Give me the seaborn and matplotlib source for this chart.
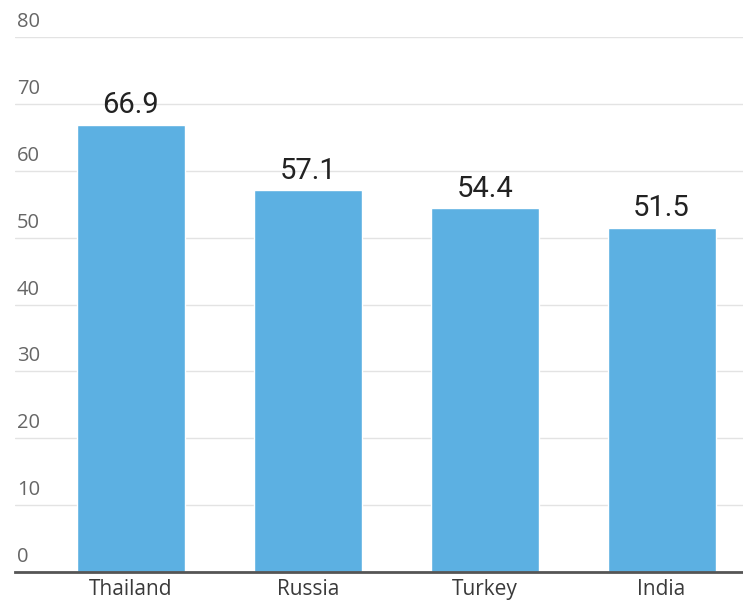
import matplotlib
matplotlib.use('Agg')
import matplotlib.pyplot as plt
import seaborn as sns
import pandas as pd

countries = ['Thailand', 'Russia', 'Turkey', 'India']
values = [66.9, 57.1, 54.4, 51.5]
y_ticks = [0, 10, 20, 30, 40, 50, 60, 70, 80]

df = pd.DataFrame({'country': countries, 'value': values})

sns.set_style('white')
plt.rcParams['font.family'] = ['Roboto', 'DejaVu Sans']

fig = plt.figure(figsize=(7.43, 6.05), dpi=100)
ax = fig.add_axes([0.0202, 0.0545, 0.9798, 0.8843])

sns.barplot(data=df, x='country', y='value', color='#5cb0e2', saturation=1,
            width=0.61, ax=ax, zorder=2)

ax.set_xlim(-0.655, 3.46)
ax.set_ylim(0, 80)
ax.set_yticks(y_ticks)
ax.set_yticklabels([])
ax.tick_params(axis='y', length=0)
ax.grid(axis='y', color='#e3e3e3', linewidth=1, zorder=0)

# y labels sit above the gridlines, inside the plot
for t in y_ticks:
    ax.annotate(str(t), xy=(0, t), xycoords=('axes fraction', 'data'),
                xytext=(2, 5), textcoords='offset pixels',
                ha='left', va='bottom', fontsize=14.5, color='#666666',
                family=['Open Sans', 'DejaVu Sans'])

ax.tick_params(axis='x', length=0, pad=5, labelsize=15, labelcolor='#3a3a3a')
for lbl in ax.get_xticklabels():
    lbl.set_family(['Open Sans', 'DejaVu Sans'])

ax.bar_label(ax.containers[0], fmt='%.1f', padding=4, fontsize=21, color='#222222')

ax.set_xlabel('')
ax.set_ylabel('')
for s in ['top', 'right', 'left']:
    ax.spines[s].set_visible(False)
ax.spines['bottom'].set_color('#555555')
ax.spines['bottom'].set_linewidth(2)
ax.spines['bottom'].set_zorder(3)

fig.savefig('out.png', dpi=100)
